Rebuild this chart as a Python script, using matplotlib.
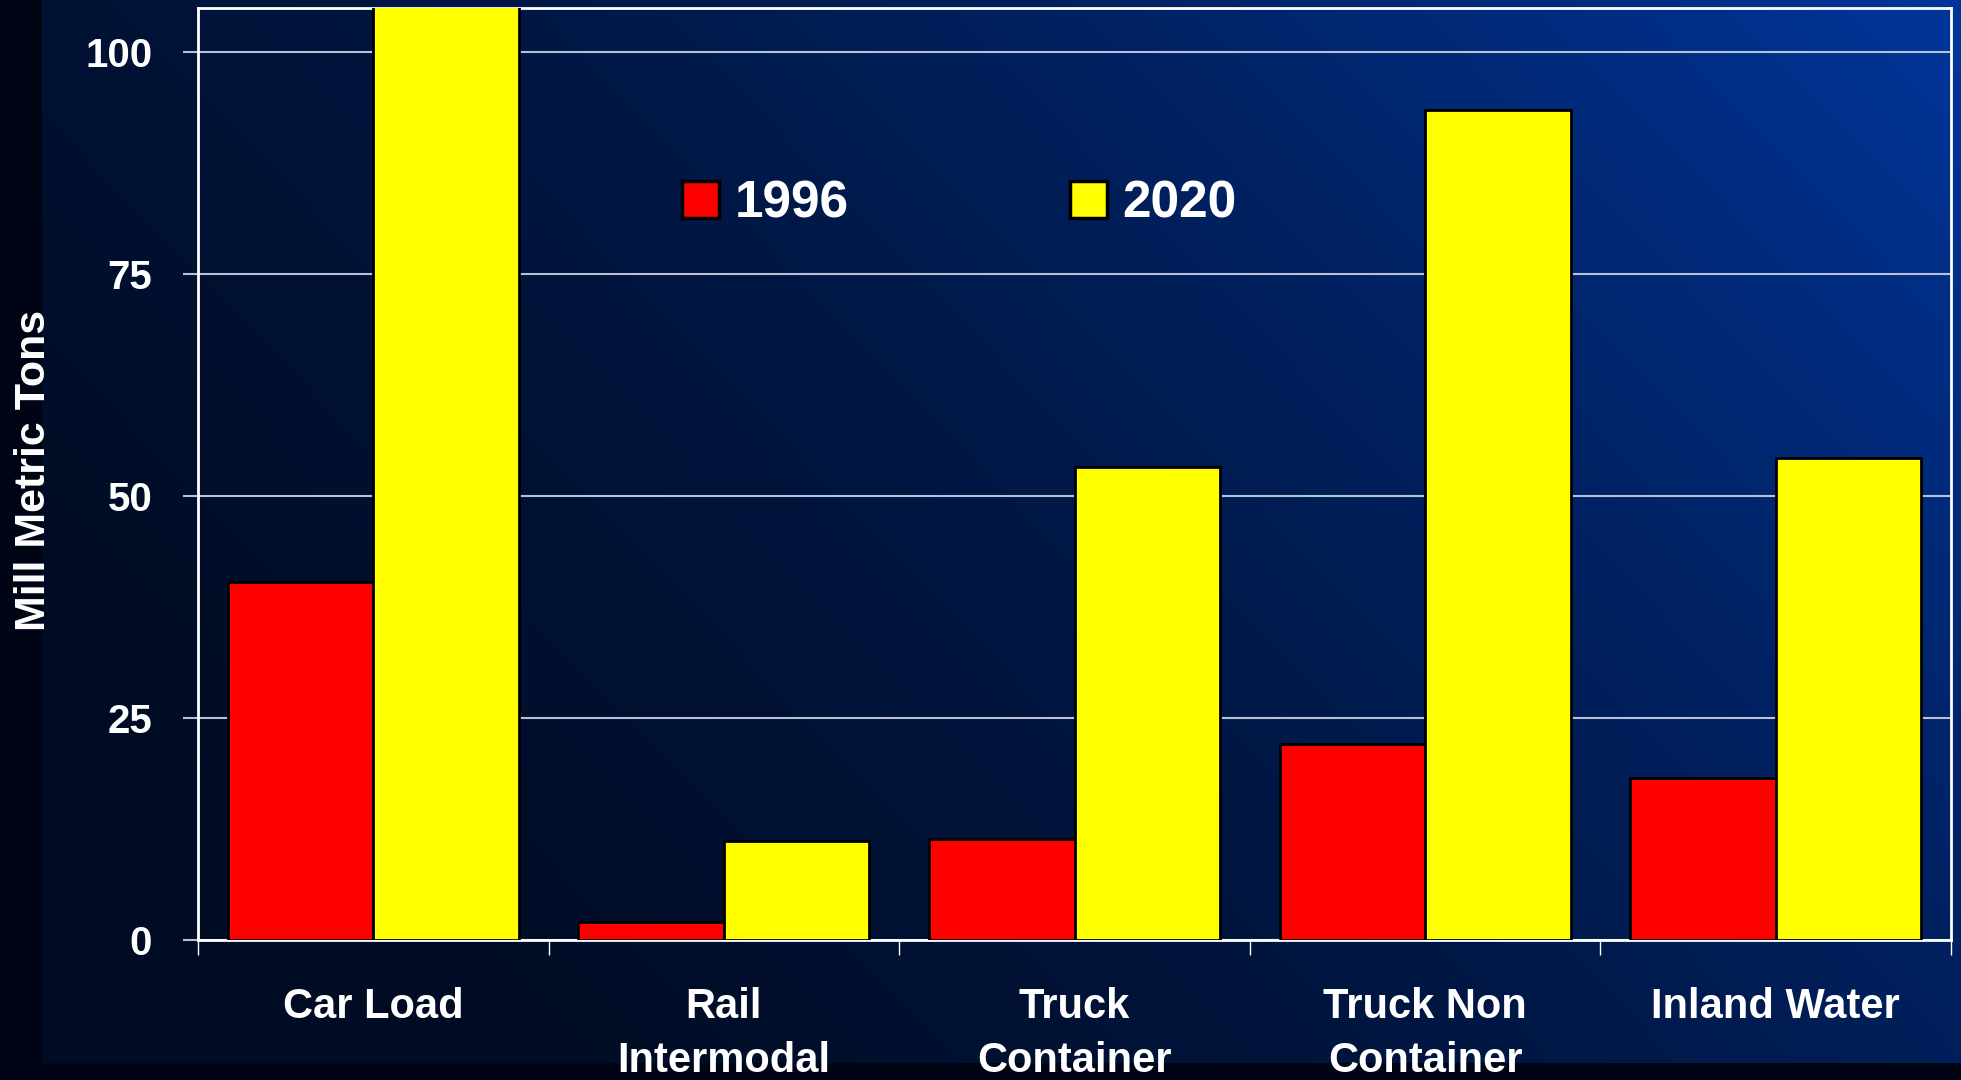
import numpy as np
import matplotlib
matplotlib.use("Agg")
import matplotlib.pyplot as plt
from matplotlib.patches import Patch

categories = ["Car Load", "Rail\nIntermodal", "Truck\nContainer", "Truck Non\nContainer", "Inland Water"]
tons_1996 = [40.3, 2.0, 11.4, 22.1, 18.2]
tons_2020 = [107.0, 11.1, 53.3, 93.5, 54.3]
years = ["1996", "2020"]
yticks = [0, 25, 50, 75, 100]

plt.rcParams['font.family'] = ['Liberation Sans', 'DejaVu Sans']
plt.rcParams['font.weight'] = 'bold'

W, H = 1961, 1080
fig = plt.figure(figsize=(W / 100, H / 100), dpi=100)
fig.patch.set_facecolor('#000516')

# slide background: dark navy at left/bottom, blue towards top right
bg = fig.add_axes([42 / W, 17 / H, 1 - 42 / W, 1 - 17 / H])
bg.axis('off')
gx, gy = np.meshgrid(np.linspace(0, 1, 400), np.linspace(1, 0, 240))
t = np.clip(0.75 * gx + 0.4 * gy - 0.12, 0, 1) ** 1.6
dark = np.array([0, 12, 36]) / 255
blue = np.array([0, 52, 150]) / 255
img = dark + (blue - dark) * t[..., None]
bg.imshow(img, aspect='auto', extent=[0, 1, 0, 1], interpolation='bilinear')

ax = fig.add_axes([198 / W, 1 - 940 / H, (1951 - 198) / W, (940 - 7.5) / H])
ax.patch.set_alpha(0)

x = np.arange(len(categories))
w = 0.415
ax.bar(x - w / 2, tons_1996, w, color='#ff0000', edgecolor='black', linewidth=2, zorder=3)
ax.bar(x + w / 2, tons_2020, w, color='#ffff00', edgecolor='black', linewidth=2, zorder=3)

ax.set_xlim(-0.5, len(categories) - 0.5)
ax.set_ylim(0, 105)
ax.set_yticks(yticks)
ax.yaxis.grid(True, color='#b8c0d8', linewidth=1.5)
ax.set_axisbelow(True)

ax.set_xticks(x)
ax.set_xticklabels(categories, fontsize=30, color='white', fontweight='bold', linespacing=1.45)
ax.set_xticks(np.arange(-0.5, len(categories), 1), minor=True)
ax.tick_params(axis='x', which='major', length=0, pad=34)
ax.tick_params(axis='x', which='minor', length=11, color='white', width=1, direction='out')
ax.tick_params(axis='y', length=11, color='#b8c0d8', width=1.5, pad=22, labelsize=29, labelcolor='white')
for s in ax.spines.values():
    s.set_color('white')
    s.set_linewidth(2)

fig.text(34 / W, 1 - 470 / H, 'Mill Metric Tons', rotation=90, ha='center', va='center',
         fontsize=31, color='white', fontweight='bold')

handles = [Patch(facecolor='#ff0000', edgecolor='black', linewidth=2.5),
           Patch(facecolor='#ffff00', edgecolor='black', linewidth=2.5)]
leg = ax.legend(handles, years, ncol=2, frameon=False, loc='center left',
                bbox_to_anchor=(682 / W, 1 - 204 / H), bbox_transform=fig.transFigure,
                prop={'size': 37, 'weight': 'bold'}, handlelength=0.72, handleheight=0.72,
                handletextpad=0.3, columnspacing=4.3, borderaxespad=0, borderpad=0)
for txt in leg.get_texts():
    txt.set_color('white')

fig.savefig('out.png', dpi=100, facecolor=fig.get_facecolor())
